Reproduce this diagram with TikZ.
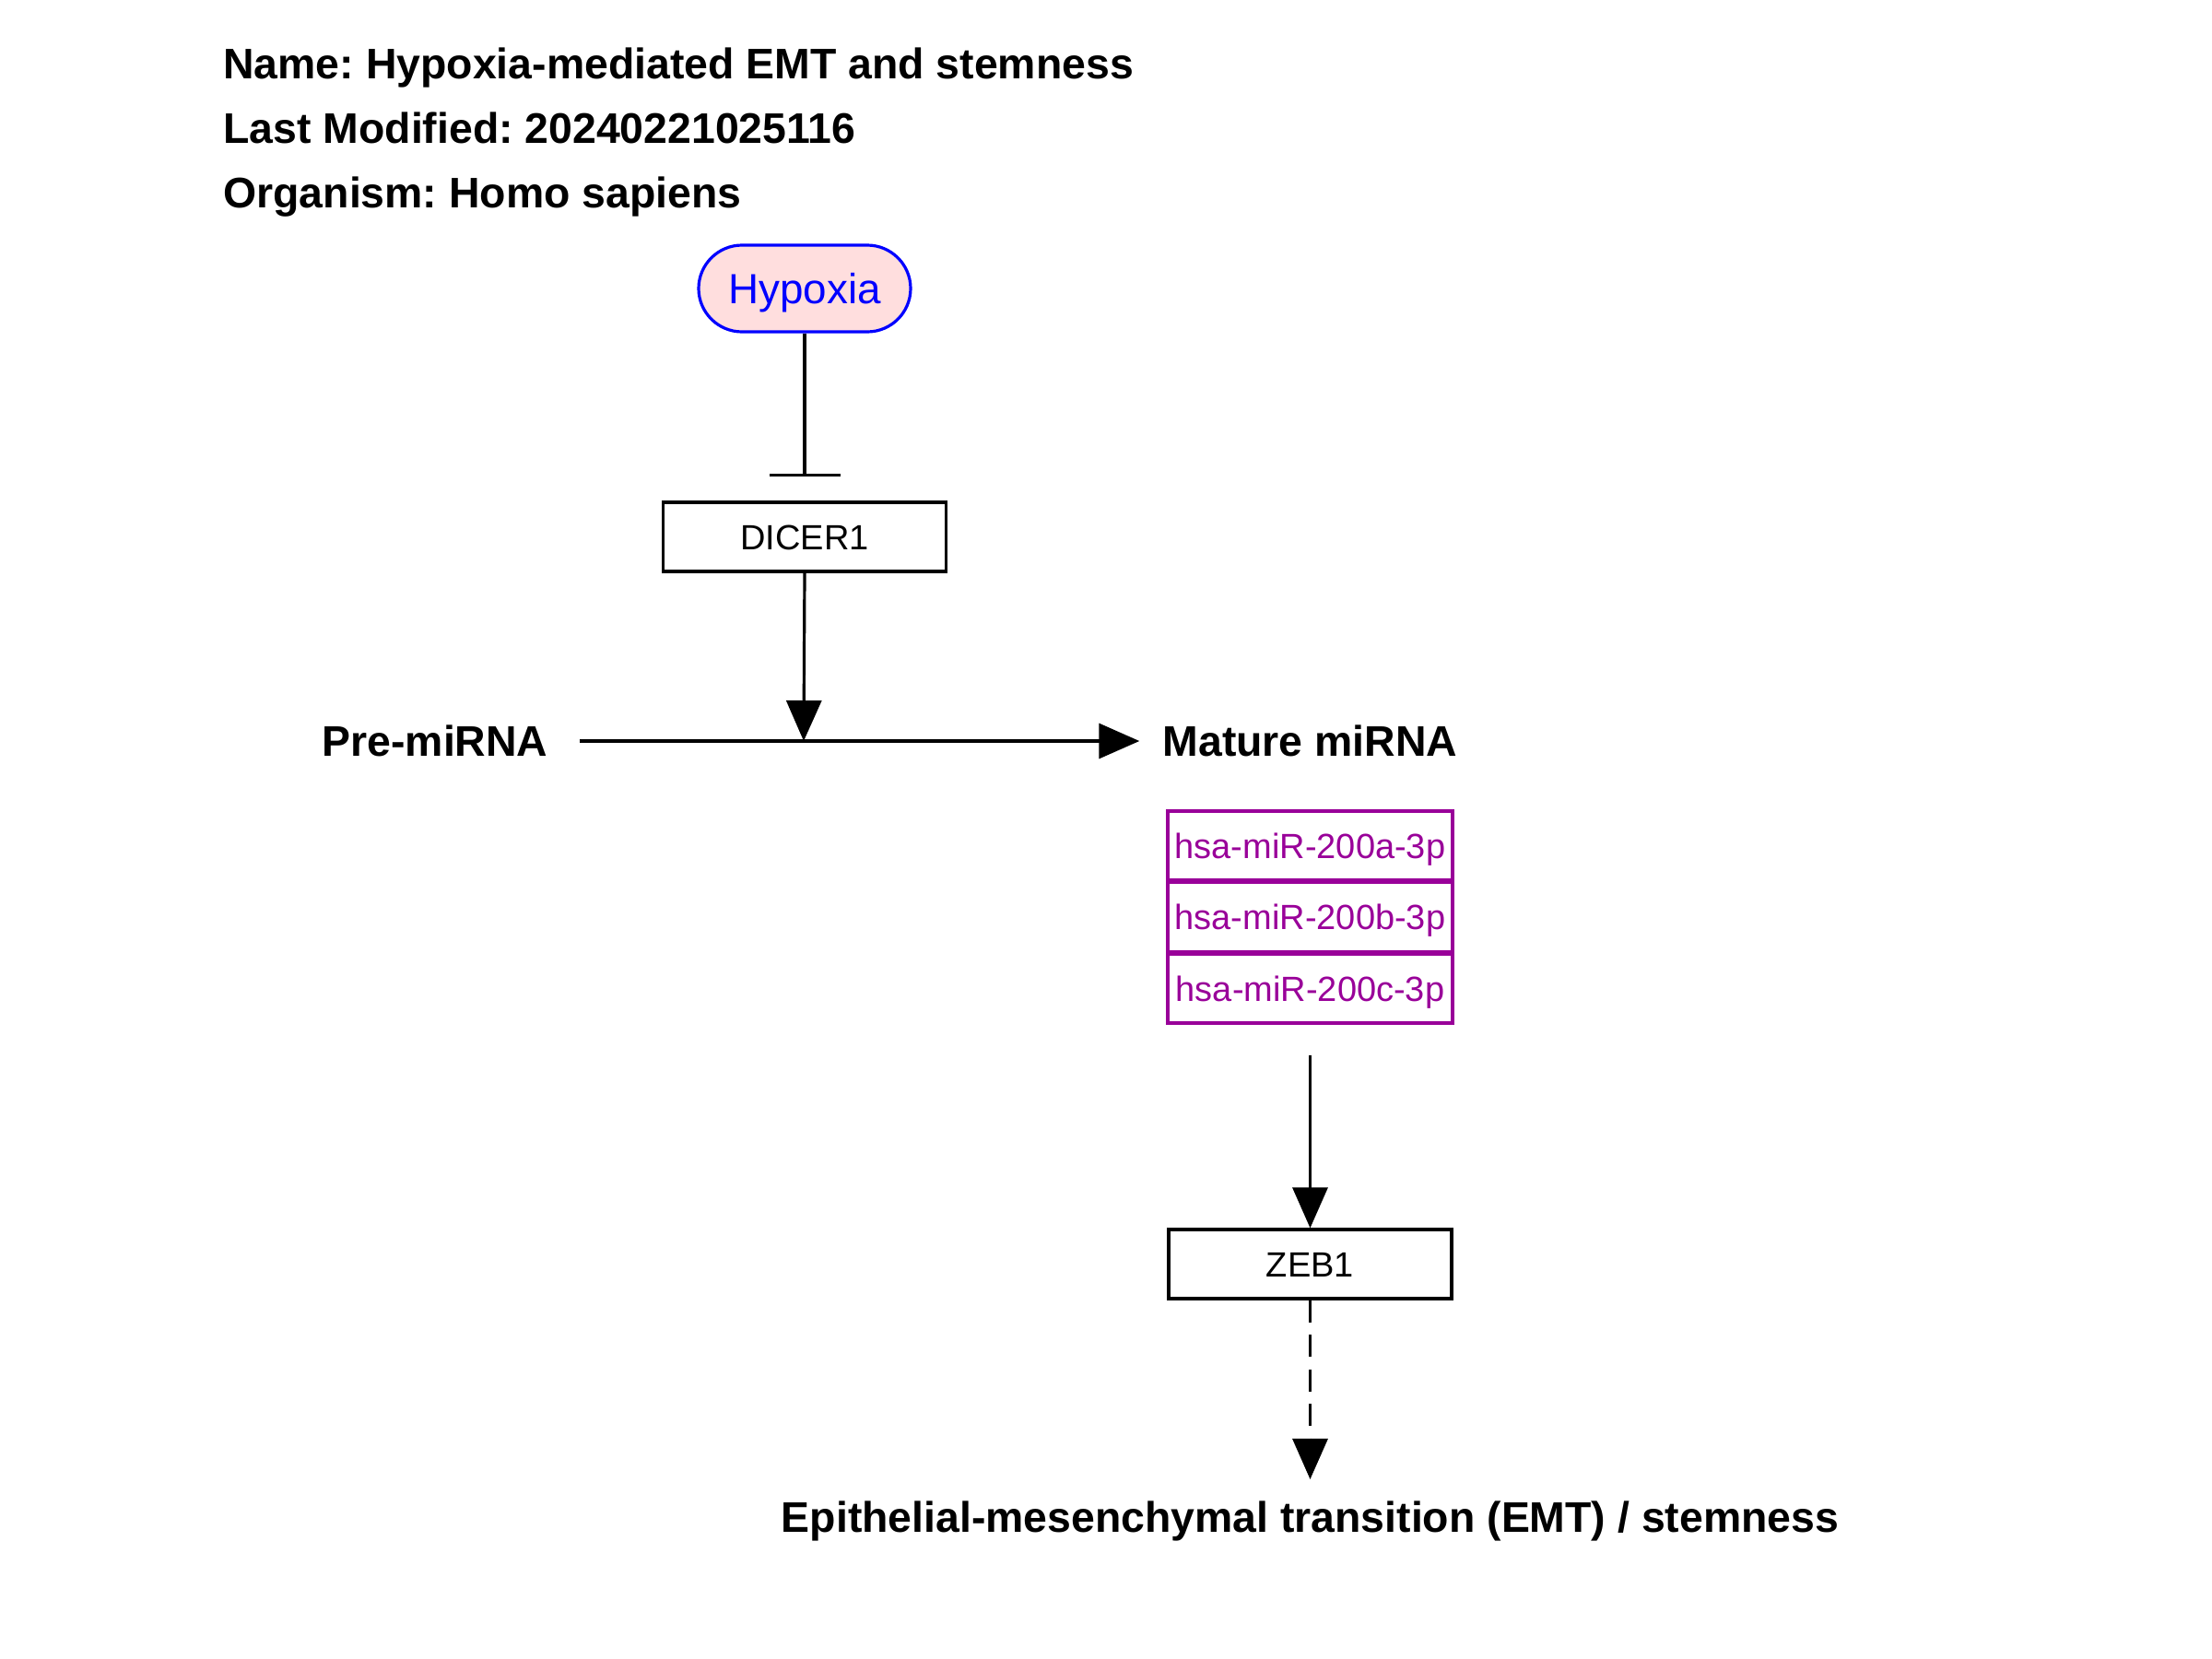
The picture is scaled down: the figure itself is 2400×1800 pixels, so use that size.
\documentclass[tikz,border=0pt]{standalone}
\usepackage{fontspec}
\setmainfont{Liberation Sans}
\usetikzlibrary{arrows.meta}
\definecolor{hypblue}{HTML}{0000FF}
\definecolor{hypfill}{HTML}{FFDEDE}
\definecolor{mirpurple}{HTML}{990099}
\frenchspacing
\tikzset{
  hdr/.style={anchor=base west, inner sep=0pt, font=\fontsize{23.2}{28}\selectfont\bfseries},
  biglabel/.style={inner ysep=0pt, font=\fontsize{23.2}{28}\selectfont\bfseries},
  genebox/.style={draw=black, line width=1.6pt, minimum width=153.5pt, minimum height=37.5pt,
    inner sep=0pt, text height=13.6pt, text depth=0pt, font=\fontsize{19}{23}\selectfont},
  mirbox/.style={genebox, draw=mirpurple, text=mirpurple, line width=1.6pt, minimum width=154.5pt},
  conn/.style={line width=1.6pt, draw=black},
  arr/.style={conn, -{Triangle[length=22pt, width=19pt]}},
  inhib/.style={conn, -{Bar[width=38.5pt]}},
  dashline/.style={dash pattern=on 12pt off 6.75pt},
}
\begin{document}
\begin{tikzpicture}[x=0.5pt, y=-0.5pt]
\useasboundingbox (0,0) rectangle (2400,1800);
% header
\node[hdr] (name) at (242,85) {Name: Hypoxia-mediated EMT and stemness};
\node[hdr] (mod) at (242,155) {Last Modified: 20240221025116};
\node[hdr] (org) at (242,225) {Organism: Homo sapiens};
% nodes
\node[draw=hypblue, fill=hypfill, text=hypblue, line width=1.6pt, rounded corners=23.5pt,
  minimum width=115pt, minimum height=47pt, inner sep=0pt, text height=16.4pt, text depth=0pt,
  font=\fontsize{22.9}{27}\selectfont] (hyp) at (873,313) {Hypoxia};
\coordinate (hypbar) at (873,517);
\node[genebox] (dicer) at (873,582.5) {DICER1};
\node[biglabel, inner xsep=17pt] (pre) at (472,804) {Pre-miRNA};
\node[biglabel, inner xsep=12.5pt] (mat) at (1421.5,804) {Mature miRNA};
\coordinate (junc) at (872,804);
\node[mirbox] (mira) at (1421.5,917.5) {hsa-miR-200a-3p};
\node[mirbox] (mirb) at (1421.5,995) {hsa-miR-200b-3p};
\node[mirbox] (mirc) at (1421.5,1072.5) {hsa-miR-200c-3p};
\node[genebox] (zeb) at (1421.5,1371.5) {ZEB1};
\node[biglabel, anchor=base, inner sep=0pt] (emt) at (1421.5,1662) {Epithelial-mesenchymal transition (EMT) / stemness};
% connectors
\draw[inhib] (hyp.south) -- (hypbar);
\draw[arr] (pre.east) -- (mat.west);
\draw[arr] (dicer.south) -- (junc);
\draw[arr, shorten <=16.5pt] (mirc.south) -- (zeb.north);
\draw[arr, dashline, shorten >=11.5pt] (zeb.south) -- (emt.north);
\end{tikzpicture}
\end{document}
